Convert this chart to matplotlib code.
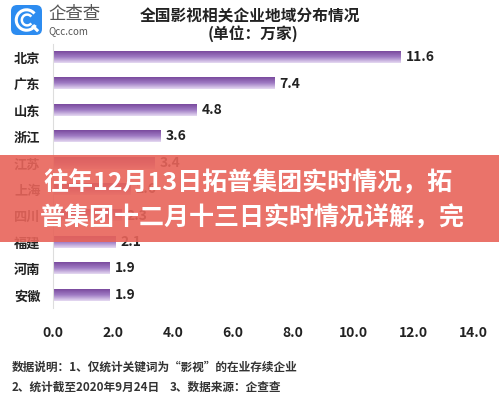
import matplotlib; matplotlib.use("Agg")
import matplotlib.pyplot as plt
from matplotlib.patches import FancyBboxPatch, Rectangle, Arc
import numpy as np

plt.rcParams["font.family"] = ["Noto Sans CJK SC", "DejaVu Sans"]

provinces = ["北京", "广东", "山东", "浙江", "江苏", "上海", "四川", "福建", "河南", "安徽"]
counts = [11.6, 7.4, 4.8, 3.6, 3.4, 2.6, 2.3, 2.1, 1.9, 1.9]
xticks = [0, 2, 4, 6, 8, 10, 12, 14]

TOP = "#7A4A9E"; BOT = "#E6DAF2"; DARK = "#222222"
W, H = 499, 398
fig = plt.figure(figsize=(W / 100, H / 100), dpi=100)
ax = fig.add_axes([53 / W, 1 - 308 / H, (473 - 53) / W, (308 - 44) / H])

y = np.arange(len(provinces))
bars = ax.barh(y, counts, height=0.44, color="none")
grad = np.linspace(0, 1, 64).reshape(-1, 1)
cmap = matplotlib.colors.LinearSegmentedColormap.from_list("pur", [TOP, "#A07CC4", BOT])
for b, v in zip(bars, counts):
    x0, y0 = b.get_x(), b.get_y()
    ax.imshow(grad, cmap=cmap, aspect="auto", extent=(x0, x0 + b.get_width(), y0 + b.get_height(), y0),
              origin="upper", zorder=2)
    ax.text(v + 0.15, b.get_y() + b.get_height() / 2, f"{v:.1f}", va="center", ha="left",
            fontsize=10, fontweight="bold", color=DARK)

ax.set_xlim(0, 14); ax.set_ylim(len(provinces) - 0.5, -0.5)
ax.set_yticks(y); ax.set_yticklabels(provinces, fontsize=9.5, fontweight="bold", color=DARK)
ax.set_xticks(xticks); ax.set_xticklabels([f"{t:.1f}" for t in xticks], fontsize=10, fontweight="bold", color=DARK)
ax.tick_params(axis="both", length=0)
ax.tick_params(axis="x", pad=13); ax.tick_params(axis="y", pad=9)
for s in ["top", "right", "bottom"]:
    ax.spines[s].set_visible(False)
ax.spines["left"].set_color("#DDDDDD"); ax.spines["left"].set_linewidth(0.8)

# title
fig.text(250 / W, 1 - 16 / H, "全国影视相关企业地域分布情况", ha="center", va="center", fontsize=11.3, fontweight="bold", color=DARK)
fig.text(253 / W, 1 - 34 / H, "(单位：万家)", ha="center", va="center", fontsize=11.3, fontweight="bold", color=DARK)

# logo
lax = fig.add_axes([11 / W, 1 - 35 / H, 31 / W, 30 / H]); lax.set_xlim(0, 1); lax.set_ylim(0, 1); lax.axis("off")
lax.add_patch(FancyBboxPatch((0, 0), 1, 1, boxstyle="round,pad=0,rounding_size=0.2", fc="#2D8CF0", ec="none", zorder=1))
lax.add_patch(Arc((0.5, 0.5), 0.66, 0.68, theta1=40, theta2=330, lw=2.2, color="white", zorder=2))
lax.add_patch(Arc((0.52, 0.5), 0.34, 0.36, theta1=40, theta2=320, lw=1.8, color="white", zorder=2))
lax.plot([0.72, 0.84], [0.28, 0.16], color="white", lw=2.2, zorder=2)
fig.text(48 / W, 1 - 14 / H, "企查查", ha="left", va="center", fontsize=12.5, color="#555555")
fig.text(48 / W, 1 - 31 / H, "Qcc.com", ha="left", va="center", fontsize=7, color="#555555")

# footer
fig.text(12 / W, 1 - 367 / H, "数据说明：1、仅统计关键词为“影视”的在业存续企业", ha="left", va="center", fontsize=8.4, fontweight="bold", color="#333333")
fig.text(12 / W, 1 - 387 / H, "2、统计截至2020年9月24日", ha="left", va="center", fontsize=8.4, fontweight="bold", color="#333333")
fig.text(170 / W, 1 - 387 / H, "3、数据来源：企查查", ha="left", va="center", fontsize=8.4, fontweight="bold", color="#333333")

# overlay banner
fig.patches.append(Rectangle((0, 1 - 242 / H), 1, 87 / H, transform=fig.transFigure, fc="#E8645A", ec="none", alpha=0.9, zorder=10))
fig.text(43 / W, 1 - 183 / H, "往年12月13日拓普集团实时情况，拓", ha="left", va="center", fontsize=18, fontweight="bold", color="white", zorder=11)
fig.text(40 / W, 1 - 218 / H, "普集团十二月十三日实时情况详解，完", ha="left", va="center", fontsize=18, fontweight="bold", color="white", zorder=11)

fig.savefig("out.png", dpi=100)
